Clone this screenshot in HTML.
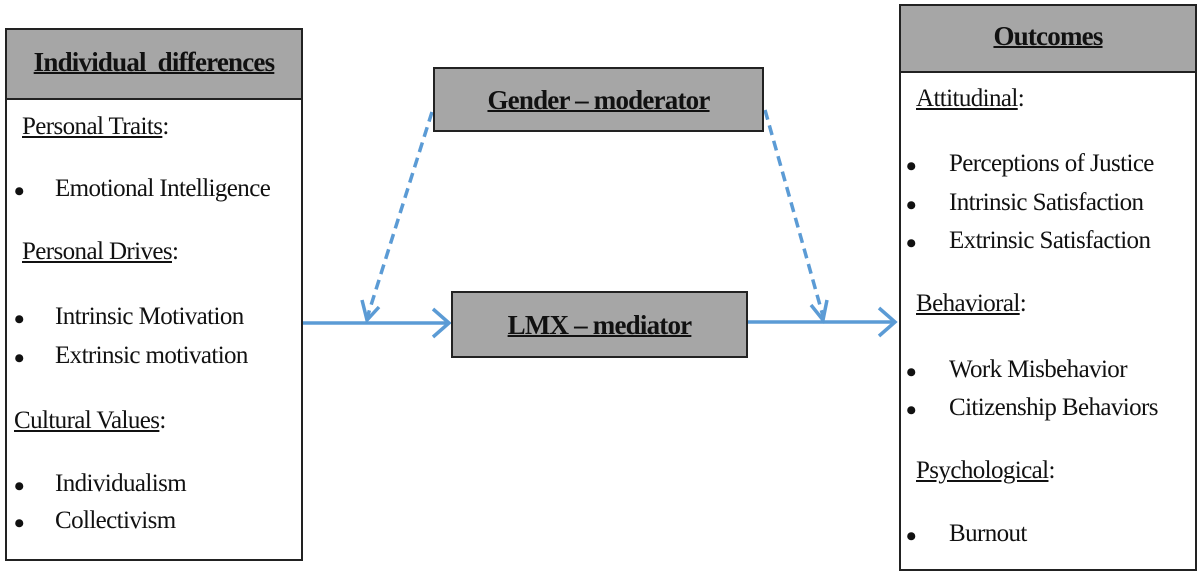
<!DOCTYPE html>
<html><head><style>
body{margin:0;width:1200px;height:577px;background:#fff;position:relative;overflow:hidden;font-family:"Liberation Serif",serif;color:#111}
.box{position:absolute;border:2px solid #222;box-sizing:border-box;background:#fff}
.hd{position:absolute;left:0;right:0;top:0;background:#a6a6a6;border-bottom:2px solid #222;font-weight:bold;font-size:27px;letter-spacing:-0.8px;text-align:center;text-decoration:underline;text-decoration-thickness:2px}
.t{position:absolute;font-size:25px;white-space:nowrap;letter-spacing:-0.6px}
.u{text-decoration:underline}
.b{position:absolute;font-size:30px;font-weight:bold;line-height:30px}
.g{position:absolute;background:#a6a6a6;border:2px solid #222;box-sizing:border-box;font-weight:bold;font-size:27px;letter-spacing:-0.8px;text-align:center;text-decoration:underline;text-decoration-thickness:2px}
</style></head><body>
<svg width="1200" height="577" style="position:absolute;left:0;top:0">
<g stroke="#5b9bd5" fill="none" stroke-width="3.5">
<line x1="302" y1="323" x2="448" y2="323"/>
<polyline points="433,309 449,323 433,337"/>
<line x1="747" y1="322" x2="894" y2="322"/>
<polyline points="879,308 895,322 879,336"/>
<line x1="432" y1="112" x2="367" y2="318" stroke-dasharray="10,6"/>
<polyline points="362,300 367,320 379,307"/>
<line x1="765" y1="110" x2="823" y2="316" stroke-dasharray="10,6"/>
<polyline points="811,305 823,320 827,300"/>
</g></svg>
<div class="box" style="left:5px;top:28px;width:298px;height:533px"><div class="hd" style="height:68px;line-height:64px">Individual&nbsp; differences</div></div>
<div class="box" style="left:899px;top:4px;width:298px;height:567px"><div class="hd" style="height:65px;line-height:60px">Outcomes</div></div>
<div class="g" style="left:433px;top:67px;width:331px;height:65px;line-height:62px">Gender – moderator</div>
<div class="g" style="left:451px;top:291px;width:297px;height:67px;line-height:64px">LMX – mediator</div>

<div class="t" style="left:22px;top:113px"><span class="u">Personal Traits</span>:</div>
<div class="b" style="left:14px;top:177px">•</div><div class="t" style="left:55px;top:175px">Emotional Intelligence</div>
<div class="t" style="left:22px;top:238px"><span class="u">Personal Drives</span>:</div>
<div class="b" style="left:14px;top:305px">•</div><div class="t" style="left:55px;top:303px">Intrinsic Motivation</div>
<div class="b" style="left:14px;top:344px">•</div><div class="t" style="left:55px;top:342px">Extrinsic motivation</div>
<div class="t" style="left:14px;top:407px"><span class="u">Cultural Values</span>:</div>
<div class="b" style="left:14px;top:472px">•</div><div class="t" style="left:55px;top:470px">Individualism</div>
<div class="b" style="left:14px;top:509px">•</div><div class="t" style="left:55px;top:507px">Collectivism</div>

<div class="t" style="left:916px;top:85px"><span class="u">Attitudinal</span>:</div>
<div class="b" style="left:906px;top:152px">•</div><div class="t" style="left:949px;top:150px">Perceptions of Justice</div>
<div class="b" style="left:906px;top:191px">•</div><div class="t" style="left:949px;top:189px">Intrinsic Satisfaction</div>
<div class="b" style="left:906px;top:229px">•</div><div class="t" style="left:949px;top:227px">Extrinsic Satisfaction</div>
<div class="t" style="left:916px;top:290px"><span class="u">Behavioral</span>:</div>
<div class="b" style="left:906px;top:358px">•</div><div class="t" style="left:949px;top:356px">Work Misbehavior</div>
<div class="b" style="left:906px;top:396px">•</div><div class="t" style="left:949px;top:394px">Citizenship Behaviors</div>
<div class="t" style="left:916px;top:457px"><span class="u">Psychological</span>:</div>
<div class="b" style="left:906px;top:522px">•</div><div class="t" style="left:949px;top:520px">Burnout</div>
</body></html>
